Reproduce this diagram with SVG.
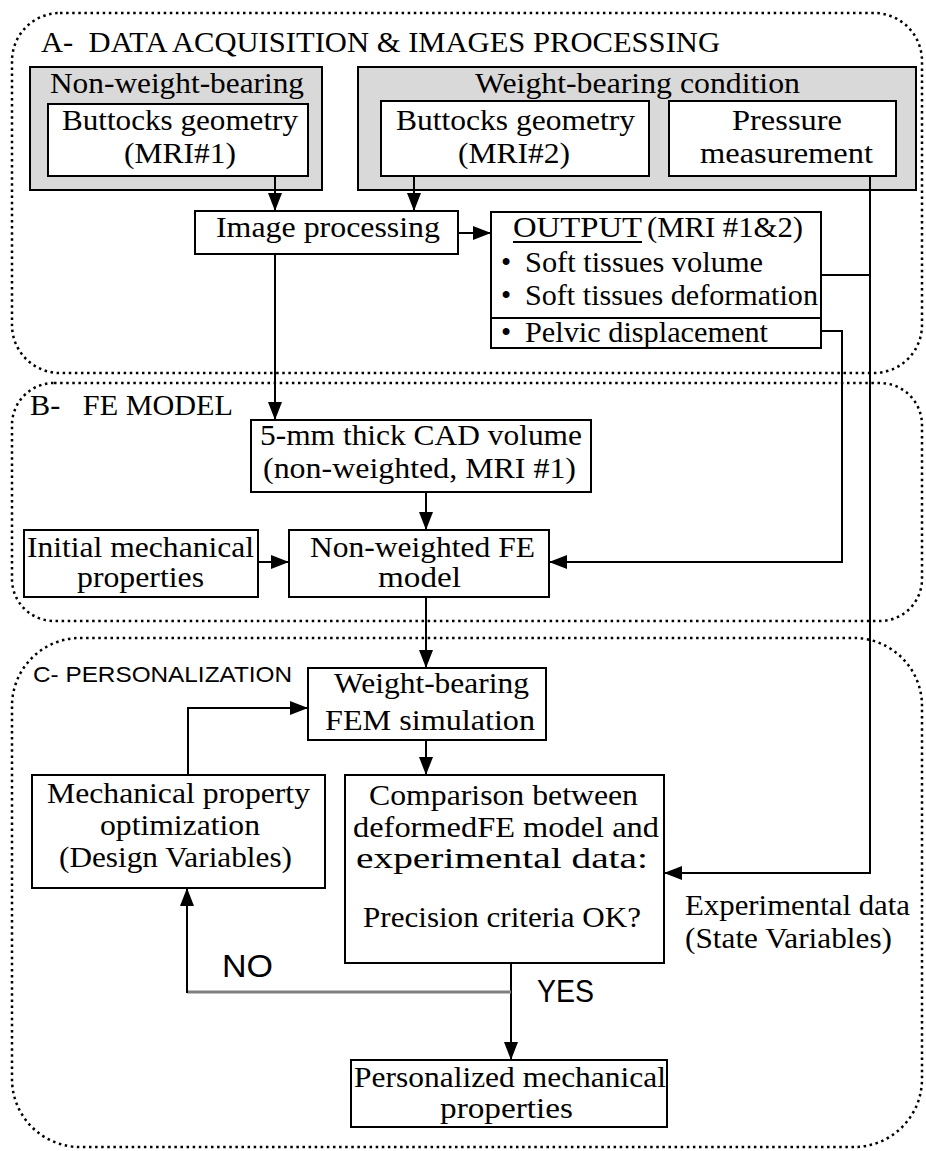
<svg xmlns="http://www.w3.org/2000/svg" width="926" height="1151" viewBox="0 0 926 1151">
<style>
.region{fill:none;stroke:#000;stroke-width:2.5;stroke-dasharray:2.5 3.6}
.grey{fill:#d9d9d9;stroke:#000;stroke-width:2}
.box{fill:#fff;stroke:#000;stroke-width:2}
.t{font-family:"Liberation Serif","Times New Roman",Times,serif;font-size:29px;fill:#000}
.s{font-family:"Liberation Sans",Arial,sans-serif;fill:#000}
.c{fill:none;stroke:#000;stroke-width:2}
.arr{marker-end:url(#ah)}
</style>
<defs>
<marker id="ah" markerUnits="userSpaceOnUse" markerWidth="18" markerHeight="14" refX="18" refY="7" orient="auto">
<path d="M0,0 L18,7 L0,14 z" fill="#000"/>
</marker>
</defs>
<rect width="926" height="1151" fill="#fff"/>

<g id="regionA">
<rect class="region" x="12" y="13" width="910" height="360" rx="48" ry="48"/>
<text class="t" x="41" y="52" textLength="679" lengthAdjust="spacingAndGlyphs" xml:space="preserve">A-  DATA ACQUISITION &amp; IMAGES PROCESSING</text>
</g>
<g id="regionB">
<rect class="region" x="12" y="383" width="910" height="238" rx="42" ry="42"/>
<text class="t" x="30" y="415" textLength="203" lengthAdjust="spacingAndGlyphs" xml:space="preserve">B-   FE MODEL</text>
</g>
<g id="regionC">
<rect class="region" x="12" y="638" width="910" height="509" rx="68" ry="68"/>
<text class="s" font-size="22" x="33" y="682" textLength="259" lengthAdjust="spacingAndGlyphs">C- PERSONALIZATION</text>
</g>

<g id="nonWeightBearing">
<rect class="grey" x="30" y="67" width="292" height="123"/>
<text class="t" x="50" y="93" textLength="254" lengthAdjust="spacingAndGlyphs">Non-weight-bearing</text>
</g>
<g id="weightBearing">
<rect class="grey" x="358" y="67" width="558" height="123"/>
<text class="t" x="475" y="93" textLength="325" lengthAdjust="spacingAndGlyphs">Weight-bearing condition</text>
</g>
<g id="mri1">
<rect class="box" x="48" y="104" width="260" height="72"/>
<text class="t" x="62" y="130" textLength="236" lengthAdjust="spacingAndGlyphs">Buttocks geometry</text>
<text class="t" x="124" y="163" textLength="112" lengthAdjust="spacingAndGlyphs">(MRI#1)</text>
</g>
<g id="mri2">
<rect class="box" x="381" y="101" width="268" height="75"/>
<text class="t" x="396" y="130" textLength="239" lengthAdjust="spacingAndGlyphs">Buttocks geometry</text>
<text class="t" x="458" y="163" textLength="112" lengthAdjust="spacingAndGlyphs">(MRI#2)</text>
</g>
<g id="pressure">
<rect class="box" x="669" y="101" width="227" height="75"/>
<text class="t" x="732" y="130" textLength="110" lengthAdjust="spacingAndGlyphs">Pressure</text>
<text class="t" x="700" y="163" textLength="173" lengthAdjust="spacingAndGlyphs">measurement</text>
</g>
<g id="imageProcessing">
<rect class="box" x="195" y="211" width="263" height="43"/>
<text class="t" x="216" y="237" textLength="224" lengthAdjust="spacingAndGlyphs">Image processing</text>
</g>
<g id="output">
<rect class="box" x="491" y="212" width="330" height="106"/>
<text class="t" x="513" y="237" textLength="129" lengthAdjust="spacingAndGlyphs">OUTPUT</text>
<line x1="513" y1="242" x2="642" y2="242" stroke="#000" stroke-width="2"/>
<text class="t" x="647" y="237" textLength="156" lengthAdjust="spacingAndGlyphs">(MRI #1&amp;2)</text>
<text class="t" x="501" y="272">•</text>
<text class="t" x="525" y="272" textLength="238" lengthAdjust="spacingAndGlyphs">Soft tissues volume</text>
<text class="t" x="501" y="305">•</text>
<text class="t" x="525" y="305" textLength="293" lengthAdjust="spacingAndGlyphs">Soft tissues deformation</text>
</g>
<g id="pelvic">
<rect class="box" x="491" y="318" width="330" height="30"/>
<text class="t" x="501" y="342">•</text>
<text class="t" x="525" y="342" textLength="243" lengthAdjust="spacingAndGlyphs">Pelvic displacement</text>
</g>
<g id="cadVolume">
<rect class="box" x="251" y="420" width="340" height="72"/>
<text class="t" x="260" y="445" textLength="322" lengthAdjust="spacingAndGlyphs">5-mm thick CAD volume</text>
<text class="t" x="263" y="478" textLength="313" lengthAdjust="spacingAndGlyphs">(non-weighted, MRI #1)</text>
</g>
<g id="initialProps">
<rect class="box" x="24" y="530" width="234" height="67"/>
<text class="t" x="27" y="557" textLength="227" lengthAdjust="spacingAndGlyphs">Initial mechanical</text>
<text class="t" x="77" y="587" textLength="127" lengthAdjust="spacingAndGlyphs">properties</text>
</g>
<g id="nonWeightedFE">
<rect class="box" x="289" y="530" width="260" height="67"/>
<text class="t" x="310" y="557" textLength="225" lengthAdjust="spacingAndGlyphs">Non-weighted FE</text>
<text class="t" x="378" y="587" textLength="83" lengthAdjust="spacingAndGlyphs">model</text>
</g>
<g id="femSimulation">
<rect class="box" x="308" y="668" width="238" height="72"/>
<text class="t" x="334" y="693" textLength="195" lengthAdjust="spacingAndGlyphs">Weight-bearing</text>
<text class="t" x="325" y="730" textLength="210" lengthAdjust="spacingAndGlyphs">FEM simulation</text>
</g>
<g id="optimization">
<rect class="box" x="32" y="775" width="293" height="113"/>
<text class="t" x="47" y="803" textLength="263" lengthAdjust="spacingAndGlyphs">Mechanical property</text>
<text class="t" x="100" y="835" textLength="160" lengthAdjust="spacingAndGlyphs">optimization</text>
<text class="t" x="59" y="867" textLength="233" lengthAdjust="spacingAndGlyphs">(Design Variables)</text>
</g>
<g id="comparison">
<rect class="box" x="345" y="775" width="319" height="188"/>
<text class="t" x="369" y="805" textLength="269" lengthAdjust="spacingAndGlyphs">Comparison between</text>
<text class="t" x="353" y="837" textLength="306" lengthAdjust="spacingAndGlyphs">deformedFE model and</text>
<text class="t" x="356" y="868" textLength="292" lengthAdjust="spacingAndGlyphs">experimental data:</text>
<text class="t" x="363" y="927" textLength="278" lengthAdjust="spacingAndGlyphs">Precision criteria OK?</text>
</g>
<g id="experimentalData">
<text class="t" x="685" y="915" textLength="225" lengthAdjust="spacingAndGlyphs">Experimental data</text>
<text class="t" x="685" y="948" textLength="207" lengthAdjust="spacingAndGlyphs">(State Variables)</text>
</g>
<g id="personalized">
<rect class="box" x="351" y="1060" width="316" height="67"/>
<text class="t" x="354" y="1087" textLength="312" lengthAdjust="spacingAndGlyphs">Personalized mechanical</text>
<text class="t" x="440" y="1118" textLength="133" lengthAdjust="spacingAndGlyphs">properties</text>
</g>

<g id="connectors">
<line class="c arr" x1="275" y1="176" x2="275" y2="211"/>
<line class="c arr" x1="414" y1="176" x2="414" y2="211"/>
<line class="c arr" x1="458" y1="233" x2="491" y2="233"/>
<line class="c arr" x1="275" y1="254" x2="275" y2="420"/>
<polyline class="c arr" points="870,176 870,873 664,873"/>
<line class="c" x1="821" y1="275" x2="870" y2="275"/>
<polyline class="c arr" points="821,331 842,331 842,562 549,562"/>
<line class="c arr" x1="426" y1="492" x2="426" y2="530"/>
<line class="c arr" x1="258" y1="562" x2="289" y2="562"/>
<line class="c arr" x1="426" y1="597" x2="426" y2="668"/>
<polyline class="c arr" points="188,775 188,708 308,708"/>
<line class="c arr" x1="426" y1="740" x2="426" y2="775"/>
<line class="c arr" x1="511" y1="963" x2="511" y2="1060"/>
<line x1="511" y1="992" x2="187" y2="992" stroke="#7f7f7f" stroke-width="3"/>
<line class="c arr" x1="187" y1="993" x2="187" y2="888"/>
<text class="s" font-size="32" x="222" y="977" textLength="51" lengthAdjust="spacingAndGlyphs">NO</text>
<text class="s" font-size="31" x="537" y="1002" textLength="57" lengthAdjust="spacingAndGlyphs">YES</text>
</g>
</svg>
